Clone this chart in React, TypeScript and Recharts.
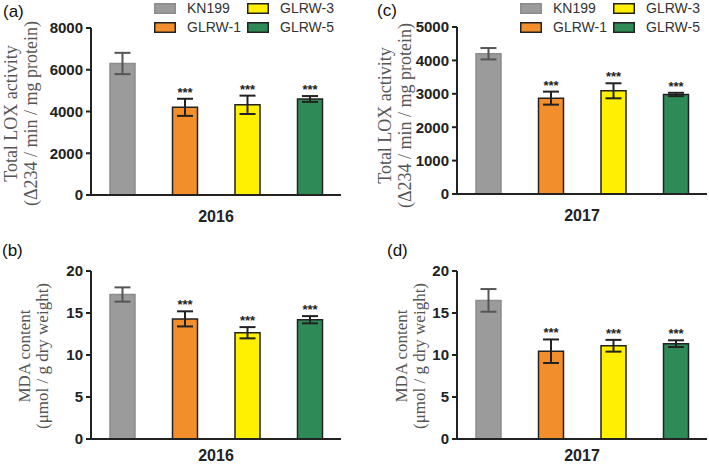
import React from 'react';
import { BarChart, Bar, XAxis, YAxis, ErrorBar, Cell, LabelList } from 'recharts';

// Data
const groups = ['KN199', 'GLRW-1', 'GLRW-3', 'GLRW-5'];
const fills = ['#9b9b9b', '#f28e2b', '#fff000', '#2e8b57'];
const strokes = ['#8c8c8c', '#222222', '#222222', '#222222'];
const sigMarks = ['', '***', '***', '***'];

const lox2016 = [6300, 4200, 4320, 4600];
const lox2016Err = [510, 410, 440, 140];
const lox2017 = [4200, 2870, 3090, 2980];
const lox2017Err = [170, 195, 225, 50];
const mda2016 = [17.2, 14.3, 12.65, 14.2];
const mda2016Err = [0.85, 0.9, 0.67, 0.43];
const mda2017 = [16.5, 10.45, 11.1, 11.35];
const mda2017Err = [1.35, 1.4, 0.7, 0.4];

const lox2016Ticks = [0, 2000, 4000, 6000, 8000];
const lox2017Ticks = [0, 1000, 2000, 3000, 4000, 5000];
const mdaTicks = [0, 5, 10, 15, 20];

const loxLabel = ['Total LOX activity', '(\u0394234 / min / mg protein)'];
const mdaLabel = ['MDA content', '(\u03bcmol / g dry weight)'];

const SANS = "Arial, 'Liberation Sans', sans-serif";
const SERIF = "'Times New Roman', 'Liberation Serif', serif";

const buildRows = (vals: number[], errs: number[]) =>
  groups.map((name, i) => ({
    name,
    value: vals[i],
    err: errs[i],
    errGrey: i === 0 ? errs[i] : null,
    errDark: i === 0 ? null : errs[i],
    sig: sigMarks[i],
  }));

type PanelProps = {
  tag: string;
  left: number;
  top: number;
  mTop: number;
  mBottom: number;
  xHeight: number;
  yearDy: number;
  vals: number[];
  errs: number[];
  ticks: number[];
  label: string[];
  labelX: [number, number];
  labelFont: number;
  labelDy: number;
  year: string;
  legend?: boolean;
  tagX: number;
  tagY: number;
};

const Legend2 = ({ left }: { left: number }) => (
  <div style={{ position: 'absolute', left, top: 0, width: 200, height: 40, fontFamily: SANS, fontSize: 14, color: '#333' }}>
    {groups.map((g, i) => {
      const col = i === 0 || i === 1 ? 0 : 93;
      const row = i === 0 || i === 2 ? 3 : 22;
      return (
        <div key={g} style={{ position: 'absolute', left: col, top: row, height: 10, display: 'flex', alignItems: 'center' }}>
          <svg width={22} height={11} style={{ display: 'block' }}>
            <rect x={0.75} y={0.75} width={20.5} height={9.5} fill={fills[i]} stroke={strokes[i]} strokeWidth={1.5} />
          </svg>
          <span style={{ marginLeft: 11, lineHeight: '10px', whiteSpace: 'nowrap' }}>{g}</span>
        </div>
      );
    })}
  </div>
);

const Panel = (p: PanelProps) => {
  const data = buildRows(p.vals, p.errs);
  const max = p.ticks[p.ticks.length - 1];

  const renderSig = (props: any) => {
    const vb = props.viewBox || props;
    const i = props.index;
    const row = data[i];
    if (!row || !row.sig) return null;
    const errTop = vb.y - (row.err * vb.height) / row.value;
    return (
      <text x={vb.x + vb.width / 2} y={errTop - 2} textAnchor="middle" fontFamily={SANS} fontWeight="bold" fontSize={13} fill="#222">
        {row.sig}
      </text>
    );
  };

  const renderYLabel = (props: any) => {
    const vb = props.viewBox;
    const plotLeft = vb.x + vb.width;
    const cy = vb.y + vb.height / 2 + p.labelDy;
    return (
      <g>
        {p.label.map((line, k) => {
          const cx = plotLeft + p.labelX[k];
          return (
            <text key={k} x={cx} y={cy} transform={`rotate(-90 ${cx} ${cy})`} textAnchor="middle" dominantBaseline="central" fontFamily={SERIF} fontSize={p.labelFont} fill="#555">
              {line}
            </text>
          );
        })}
      </g>
    );
  };

  const renderYear = (props: any) => {
    const vb = props.viewBox;
    return (
      <text x={vb.x + vb.width / 2} y={vb.y + p.yearDy} textAnchor="middle" fontFamily={SANS} fontWeight="bold" fontSize={16} fill="#222">
        {p.year}
      </text>
    );
  };

  return (
    <>
      <div style={{ position: 'absolute', left: p.left, top: p.top }}>
        <BarChart width={355} height={232} data={data} margin={{ top: p.mTop, right: 14, bottom: p.mBottom, left: 31 }}>
          <XAxis dataKey="name" tick={false} tickLine={false} height={p.xHeight} axisLine={{ stroke: '#222', strokeWidth: 2 }} label={{ content: renderYear }} />
          <YAxis
            width={60}
            domain={[0, max]}
            ticks={p.ticks}
            interval={0}
            tickSize={5}
            tickMargin={3}
            axisLine={{ stroke: '#222', strokeWidth: 2 }}
            tickLine={{ stroke: '#222', strokeWidth: 2 }}
            tick={{ fill: '#222', fontSize: 15, fontWeight: 'bold', fontFamily: SANS }}
            label={{ content: renderYLabel }}
          />
          <Bar dataKey="value" barSize={25} isAnimationActive={false}>
            {data.map((d, i) => (
              <Cell key={d.name} fill={fills[i]} stroke={strokes[i]} strokeWidth={1.5} />
            ))}
            <ErrorBar dataKey="errGrey" width={8} stroke="#555" strokeWidth={2} />
            <ErrorBar dataKey="errDark" width={8} stroke="#222" strokeWidth={2} />
            <LabelList dataKey="sig" content={renderSig} />
          </Bar>
        </BarChart>
      </div>
      <div style={{ position: 'absolute', left: p.tagX, top: p.tagY, fontFamily: SANS, fontSize: 17, color: '#111', lineHeight: '17px' }}>{p.tag}</div>
      {p.legend && <Legend2 left={p.left + 91 + 63} />}
    </>
  );
};

export default function App() {
  return (
    <div style={{ position: 'absolute', left: 0, top: 0, width: 709, height: 464, overflow: 'hidden', background: '#fff' }}>
      <Panel tag="(a)" tagX={3} tagY={3} left={0} top={0} mTop={28} mBottom={7} xHeight={30} yearDy={27}
        vals={lox2016} errs={lox2016Err} ticks={lox2016Ticks} label={loxLabel} labelX={[-80, -60]} labelFont={18} labelDy={2}
        year="2016" legend />
      <Panel tag="(c)" tagX={377} tagY={2} left={366} top={0} mTop={27} mBottom={8} xHeight={30} yearDy={27}
        vals={lox2017} errs={lox2017Err} ticks={lox2017Ticks} label={loxLabel} labelX={[-72, -52]} labelFont={18} labelDy={5}
        year="2017" legend />
      <Panel tag="(b)" tagX={2} tagY={242} left={0} top={232} mTop={39} mBottom={5} xHeight={20} yearDy={22}
        vals={mda2016} errs={mda2016Err} ticks={mdaTicks} label={mdaLabel} labelX={[-67, -49]} labelFont={17} labelDy={1}
        year="2016" />
      <Panel tag="(d)" tagX={387} tagY={242} left={366} top={232} mTop={39} mBottom={5} xHeight={20} yearDy={22}
        vals={mda2017} errs={mda2017Err} ticks={mdaTicks} label={mdaLabel} labelX={[-56, -38]} labelFont={17} labelDy={1}
        year="2017" />
    </div>
  );
}
